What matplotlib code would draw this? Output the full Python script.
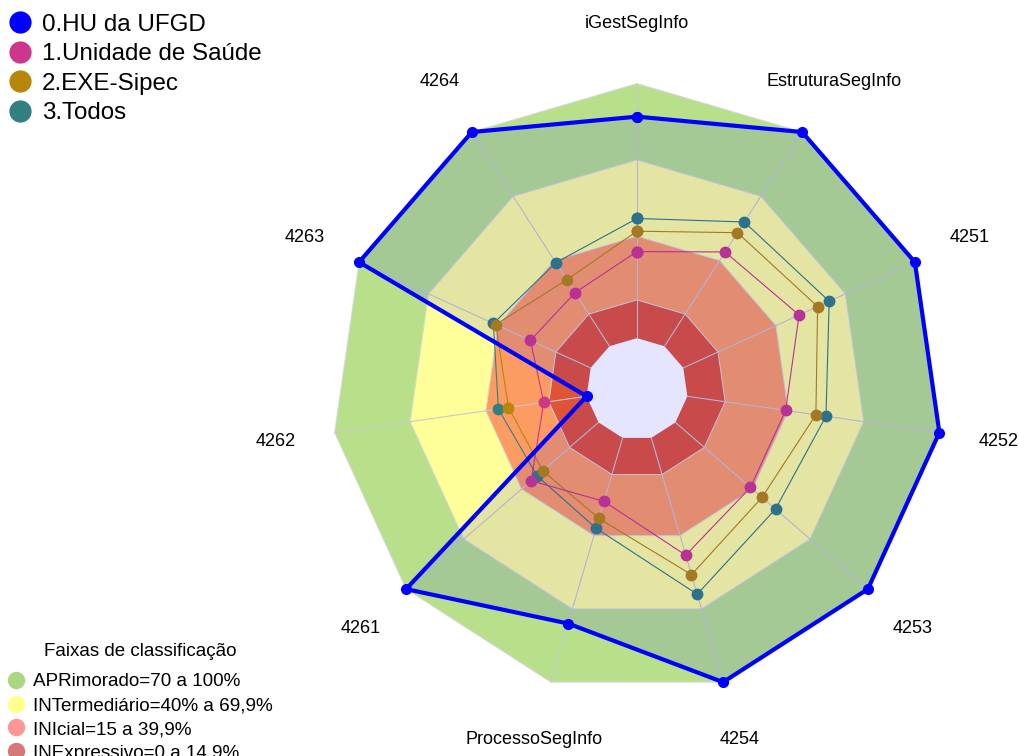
import matplotlib
matplotlib.use("Agg")
import matplotlib.pyplot as plt
import numpy as np
from matplotlib.lines import Line2D

plt.rcParams['font.family'] = ['Liberation Sans', 'DejaVu Sans']

# eixos do radar (sentido horario a partir do topo)
categories = ['iGestSegInfo', 'EstruturaSegInfo', '4251', '4252', '4253', '4254',
              'ProcessoSegInfo', '4261', '4262', '4263', '4264']

# valores (0 a 1)
hu_ufgd = [0.87, 1.00, 1.00, 1.00, 1.00, 1.00, 0.76, 1.00, 0.00, 1.00, 1.00]
unidade_saude = [0.34, 0.44, 0.50, 0.39, 0.39, 0.48, 0.26, 0.35, 0.17, 0.26, 0.25]
exe_sipec = [0.42, 0.53, 0.58, 0.51, 0.45, 0.56, 0.33, 0.29, 0.31, 0.41, 0.31]
todos = [0.47, 0.58, 0.63, 0.55, 0.52, 0.64, 0.37, 0.32, 0.35, 0.42, 0.39]

series_names = ['0.HU da UFGD', '1.Unidade de Saúde', '2.EXE-Sipec', '3.Todos']
series_colors = ['#0000FF', '#CD378A', '#B8860B', '#327F7F']

# faixas de classificacao
band_limits = [1.0, 0.7, 0.4, 0.15]
band_fill = ['#B8E08A', '#FFFF99', '#FC9C63', '#DF5337']
band_names = ['APRimorado=70 a 100%', 'INTermediário=40% a 69,9%',
              'INIcial=15 a 39,9%', 'INExpressivo=0 a 14,9%']
band_legend_colors = ['#AAD782', '#FFFF8C', '#FF9696', '#D77878']


def closed(values):
    return list(values) + [values[0]]


n = len(categories)
angles = [2 * np.pi * i / n for i in range(n)]
ang_c = closed(angles)

fig = plt.figure(figsize=(10.19, 7.56), dpi=100)
ax = fig.add_axes([0.3253, 0.0813, 0.5996, 0.8082], projection='polar')
ax.set_theta_zero_location('N')
ax.set_theta_direction(-1)
ax.set_ylim(0, 1)
ax.set_rorigin(-0.2)
ax.axis('off')

arts = []
# faixas (do externo para o interno)
for lim, col in zip(band_limits, band_fill):
    arts += ax.fill(ang_c, closed([lim] * n), facecolor=col, edgecolor='#D8D8DE',
                    linewidth=0.7, zorder=1)
# miolo branco
arts += ax.fill(ang_c, closed([0.0] * n), facecolor='white', edgecolor='none', zorder=1.5)

# linhas radiais
for a in angles:
    arts += ax.plot([a, a], [0, 1], color='#C8C8D2', linewidth=0.8, zorder=2)

# series 3, 2, 1
others = [unidade_saude, exe_sipec, todos]
for vals, col in reversed(list(zip(others, series_colors[1:]))):
    arts += ax.plot(ang_c, closed(vals), color=col, linewidth=0.8, marker='o',
                    markersize=7.5, zorder=3)

# serie 0 com preenchimento
arts += ax.fill(ang_c, closed(hu_ufgd), facecolor='#0000FF', alpha=0.1,
                edgecolor='none', zorder=4)
arts += ax.plot(ang_c, closed(hu_ufgd), color='#0000FF', linewidth=3,
                marker='o', markersize=7, zorder=5)

for art in arts:
    art.set_clip_on(False)

for a, lab in zip(angles, categories):
    ax.text(a, 1.235, lab, ha='center', va='center', fontsize=13)

# legenda das series
h1 = [Line2D([], [], marker='o', ls='', markersize=15, color=c) for c in series_colors]
fig.legend(h1, series_names, loc='upper left', bbox_to_anchor=(0.0054, 0.985),
           frameon=False, fontsize=17.4, handlelength=1.0, handletextpad=0.41,
           labelspacing=0.31, borderaxespad=0.0, borderpad=0.1)

# legenda das faixas
fig.text(140 / 1019, 1 - 651 / 756, 'Faixas de classificação', ha='center',
         va='center', fontsize=13.5)
h2 = [Line2D([], [], marker='o', ls='', markersize=11.5, color=c) for c in band_legend_colors]
fig.legend(h2, band_names, loc='upper left', bbox_to_anchor=(0.0055, 0.112),
           frameon=False, fontsize=13.6, handlelength=0.9, handletextpad=0.45,
           labelspacing=0.35, borderaxespad=0.0, borderpad=0.1)

fig.savefig('out.png', dpi=100)
